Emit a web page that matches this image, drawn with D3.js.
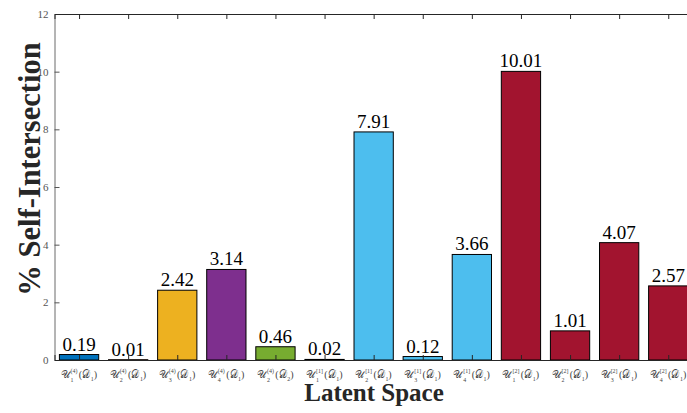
<!DOCTYPE html>
<html>
<head>
<meta charset="utf-8">
<script src="https://cdn.jsdelivr.net/npm/d3@7"></script>
<style>
  html, body { margin: 0; padding: 0; background: #fff; }
  svg { display: block; }
</style>
</head>
<body>
<svg id="chart" width="687" height="413"></svg>
<script>
// Latent spaces: script U with subscript index, bracketed superscript, and dataset D
const spaceIndex = [1, 2, 3, 4, 2, 1, 2, 3, 4, 1, 2, 3, 4];
const spaceLevel = ["(4)", "(4)", "(4)", "(4)", "(4)", "[1]", "[1]", "[1]", "[1]", "[2]", "[2]", "[2]", "[2]"];
const datasetIndex = [1, 1, 1, 1, 2, 1, 1, 1, 1, 1, 1, 1, 1];
const selfIntersection = [0.19, 0.01, 2.42, 3.14, 0.46, 0.02, 7.91, 0.12, 3.66, 10.01, 1.01, 4.07, 2.57];
const barColors = ["#0072BD", "#D95319", "#EDB120", "#7E2F8E", "#77AC30", "#4DBEEE", "#4DBEEE",
                   "#4DBEEE", "#4DBEEE", "#A2142F", "#A2142F", "#A2142F", "#A2142F"];
const yTicks = [0, 2, 4, 6, 8, 10, 12];

const svg = d3.select("#chart");
const plotLeft = 54.5, plotTop = 14, plotBottom = 360, step = 49.1;
const plotRight = plotLeft + 13 * step;

const x = d3.scaleLinear().domain([0.5, 13.5]).range([plotLeft, plotRight]);
const y = d3.scaleLinear().domain([0, 12]).range([plotBottom, plotTop]);
const barW = 0.8;
const idx = d3.range(1, selfIntersection.length + 1);

const serif = "Times New Roman, Liberation Serif, serif";

// bars
svg.append("g").selectAll("rect").data(selfIntersection).join("rect")
  .attr("x", (d, i) => x(i + 1 - barW / 2))
  .attr("width", (d, i) => x(i + 1 + barW / 2) - x(i + 1 - barW / 2))
  .attr("y", d => y(d))
  .attr("height", d => y(0) - y(d))
  .attr("fill", (d, i) => barColors[i])
  .attr("stroke", "#000")
  .attr("stroke-width", 1);

// value labels
svg.append("g").selectAll("text").data(selfIntersection).join("text")
  .attr("x", (d, i) => x(i + 1))
  .attr("y", d => y(d) - 4)
  .attr("text-anchor", "middle")
  .style("font-family", serif)
  .style("font-size", "19px")
  .attr("fill", "#000")
  .text(d => d.toFixed(2));

// axes: inward ticks, box on top
const axisColor = "#262626";
const yAxis = svg.append("g").attr("transform", `translate(${plotLeft},0)`)
  .call(d3.axisLeft(y).tickValues(yTicks).tickSize(-5).tickPadding(6));
yAxis.select(".domain").attr("stroke", "#6b6b6b");
yAxis.selectAll(".tick line").attr("stroke", "#555");
yAxis.selectAll(".tick text").style("font-family", serif).style("font-size", "11px").attr("fill", "#555");

const xBottom = svg.append("g").attr("transform", `translate(0,${plotBottom})`)
  .call(d3.axisBottom(x).tickValues(idx).tickSize(-5).tickFormat(""));
xBottom.select(".domain").attr("stroke", axisColor);
xBottom.selectAll(".tick line").attr("stroke", axisColor);

const xTop = svg.append("g").attr("transform", `translate(0,${plotTop})`)
  .call(d3.axisTop(x).tickValues(idx).tickSize(-5).tickFormat(""));
xTop.select(".domain").attr("stroke", axisColor);
xTop.selectAll(".tick line").attr("stroke", axisColor);

// category labels: one text each — 𝒰, subscript, superscript stacked over it, then (𝒟_k)
const labelWidth = 37;
const small = 6.5;
const labG = svg.append("g").style("font-family", serif).attr("fill", "#444");
idx.forEach((c, i) => {
  const g = labG.append("g").attr("transform", `translate(${x(c)},378)`);
  const inner = g.append("g");
  const probe = inner.append("text").style("font-size", small + "px").text(spaceIndex[i]);
  const subW = probe.node().getComputedTextLength();
  probe.remove();
  const t = inner.append("text").attr("x", 0).attr("y", 0).style("font-size", "11px");
  t.append("tspan").text("𝒰");
  t.append("tspan").style("font-size", small + "px").attr("dx", 0.5).attr("dy", 3.5).text(spaceIndex[i]);
  t.append("tspan").style("font-size", small + "px").attr("dx", -subW).attr("dy", -8.5).text(spaceLevel[i]);
  t.append("tspan").attr("dx", 1.5).attr("dy", 5).text("(𝒟");
  t.append("tspan").style("font-size", small + "px").attr("dy", 2.5).text(datasetIndex[i]);
  t.append("tspan").attr("dy", -2.5).text(")");
  const total = t.node().getComputedTextLength();
  const k = Math.min(1, labelWidth / total);
  inner.attr("transform", `scale(${k},1) translate(${-total / 2},0)`);
});

// axis titles
svg.append("text")
  .attr("transform", `translate(40,169) rotate(-90)`)
  .attr("text-anchor", "middle")
  .style("font-family", serif).style("font-weight", "bold").style("font-size", "30.5px")
  .attr("fill", "#262626")
  .text("% Self-Intersection");

svg.append("text")
  .attr("x", 374).attr("y", 401)
  .attr("text-anchor", "middle")
  .style("font-family", serif).style("font-weight", "bold").style("font-size", "25px")
  .attr("fill", "#262626")
  .text("Latent Space");
</script>
</body>
</html>
